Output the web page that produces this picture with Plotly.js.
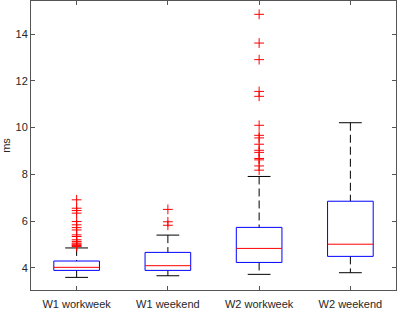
<!DOCTYPE html>
<html>
<head>
<meta charset="utf-8">
<script src="https://cdn.plot.ly/plotly-3.0.1.min.js"></script>
<style>html,body{margin:0;padding:0;background:#fff;}#chart{width:399px;height:311px;}</style>
</head>
<body>
<div id="chart"></div>
<script>
var categories = ["W1 workweek", "W1 weekend", "W2 workweek", "W2 weekend"];
var q1 = [3.89, 3.89, 4.23, 4.49];
var medians = [4.02, 4.09, 4.83, 5.01];
var q3 = [4.29, 4.66, 5.73, 6.85];
var whiskerLow = [3.59, 3.66, 3.72, 3.79];
var whiskerHigh = [4.85, 5.40, 7.91, 10.21];
var outliersW1Workweek = [6.91, 6.55, 6.45, 6.34, 5.98, 5.84, 5.72, 5.62, 5.41, 5.34, 5.20, 5.13, 5.06, 5.02, 4.98, 4.95, 4.91];
var outliersW1Weekend = [6.50, 5.97, 5.82];
var outliersW2Workweek = [14.85, 13.62, 12.91, 11.55, 11.34, 10.10, 9.67, 9.56, 9.29, 9.03, 8.94, 8.68, 8.62, 8.36, 8.18];
var outliersW2Weekend = [];
var yTicks = [4, 6, 8, 10, 12, 14];

var outlierSets = [outliersW1Workweek, outliersW1Weekend, outliersW2Workweek, outliersW2Weekend];
var pos = categories.map(function(c, i){ return i + 1; });
var halfW = 0.25, capHalf = 0.125;

var bx = [], by = [], mx = [], my = [], wx = [], wy = [], cx = [], cy = [], ox = [], oy = [];
pos.forEach(function(p, i){
  bx.push(p-halfW, p+halfW, p+halfW, p-halfW, p-halfW, null);
  by.push(q1[i], q1[i], q3[i], q3[i], q1[i], null);
  mx.push(p-halfW, p+halfW, null);
  my.push(medians[i], medians[i], null);
  wx.push(p, p, null, p, p, null);
  wy.push(whiskerHigh[i], q3[i], null, q1[i], whiskerLow[i], null);
  cx.push(p-capHalf, p+capHalf, null, p-capHalf, p+capHalf, null);
  cy.push(whiskerHigh[i], whiskerHigh[i], null, whiskerLow[i], whiskerLow[i], null);
  outlierSets[i].forEach(function(v){ ox.push(p); oy.push(v); });
});

var traces = [
  {x: wx, y: wy, mode: 'lines', line: {color: '#000', width: 1, dash: '8px,4px'}, hoverinfo: 'skip'},
  {x: cx, y: cy, mode: 'lines', line: {color: '#000', width: 1}, hoverinfo: 'skip'},
  {x: bx, y: by, mode: 'lines', line: {color: '#0000FF', width: 1}, hoverinfo: 'skip'},
  {x: mx, y: my, mode: 'lines', line: {color: '#FF0000', width: 1}, hoverinfo: 'skip'},
  {x: ox, y: oy, mode: 'markers', marker: {symbol: 'cross-thin', size: 7, color: '#FF0000', line: {color: '#FF0000', width: 1}}, hoverinfo: 'skip'}
];

var fontFam = 'Liberation Sans, Arial, Helvetica, sans-serif';
var layout = {
  width: 399, height: 311,
  margin: {l: 31, r: 3, t: 1, b: 21, pad: 0},
  paper_bgcolor: '#fff', plot_bgcolor: '#fff',
  showlegend: false,
  font: {family: fontFam, size: 11, color: '#262626'},
  xaxis: {
    range: [0.5, 4.5], tickmode: 'array', tickvals: pos, ticktext: categories,
    ticks: 'inside', ticklen: 4, tickcolor: '#555', tickwidth: 1,
    showline: true, linecolor: '#555', linewidth: 1, mirror: 'ticks',
    showgrid: false, zeroline: false, automargin: false, ticklabelstandoff: 4,
    tickfont: {family: fontFam, size: 11, color: '#262626'}
  },
  yaxis: {
    range: [3.05, 15.42], tickmode: 'array', tickvals: yTicks,
    ticks: 'inside', ticklen: 4, tickcolor: '#555', tickwidth: 1,
    showline: true, linecolor: '#555', linewidth: 1, mirror: 'ticks',
    showgrid: false, zeroline: false, automargin: false,
    tickfont: {family: fontFam, size: 11, color: '#262626'},
    title: {text: 'ms', standoff: 4, font: {family: fontFam, size: 11, color: '#262626'}}
  }
};

Plotly.newPlot('chart', traces, layout, {staticPlot: true, displayModeBar: false});
</script>
</body>
</html>
